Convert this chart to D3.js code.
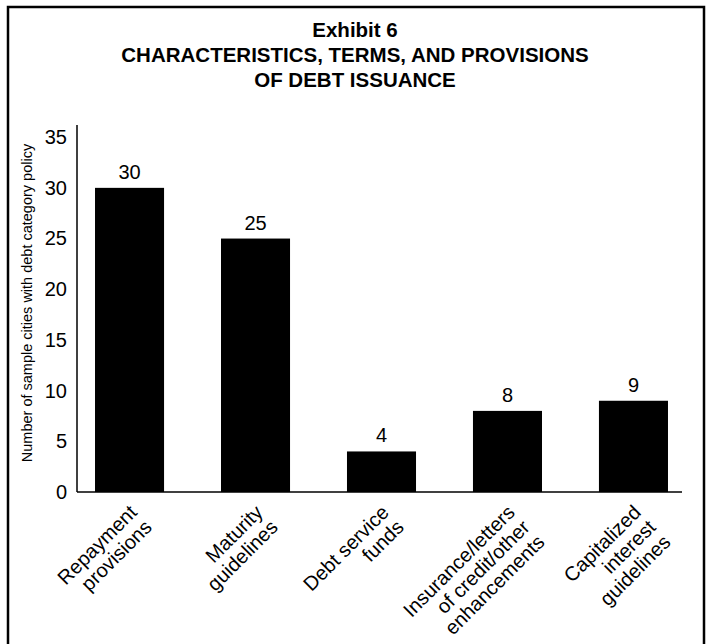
<!DOCTYPE html>
<html>
<head>
<meta charset="utf-8">
<script src="https://cdn.jsdelivr.net/npm/d3@7"></script>
<style>
  html, body { margin: 0; padding: 0; background: #fff; }
  svg { display: block; font-family: "Liberation Sans", Arial, Helvetica, sans-serif; }
</style>
</head>
<body>
<svg id="chart" width="709" height="644"></svg>
<script>
const categories = [
  ["Repayment", "provisions"],
  ["Maturity", "guidelines"],
  ["Debt service", "funds"],
  ["Insurance/letters", "of credit/other", "enhancements"],
  ["Capitalized", "interest", "guidelines"]
];
const values = [30, 25, 4, 8, 9];
const yTicks = [0, 5, 10, 15, 20, 25, 30, 35];
const titleLines = ["Exhibit 6", "CHARACTERISTICS, TERMS, AND PROVISIONS", "OF DEBT ISSUANCE"];
const yTitle = "Number of sample cities with debt category policy";

const svg = d3.select("#chart");

// frame
svg.append("path")
  .attr("d", "M8,650 L8,7 L704,7 L704,650")
  .attr("fill", "none").attr("stroke", "#000").attr("stroke-width", 2.5);

// title
svg.append("g").selectAll("text").data(titleLines).join("text")
  .attr("x", 355).attr("y", (d, i) => 37 + i * 25)
  .attr("text-anchor", "middle")
  .attr("font-weight", "bold").attr("font-size", 20.5)
  .text(d => d);

const x0 = 77, yBase = 492;
const x = d3.scaleBand()
  .domain(d3.range(categories.length))
  .range([x0, 686])
  .paddingInner(0.452).paddingOuter(0.143);
const y = d3.scaleLinear().domain([0, 36.2]).range([yBase, 125]);

// bars
svg.append("g").selectAll("rect").data(values).join("rect")
  .attr("x", (d, i) => x(i)).attr("width", x.bandwidth())
  .attr("y", d => y(d)).attr("height", d => y(0) - y(d))
  .attr("fill", "#000");

// value labels
svg.append("g").selectAll("text").data(values).join("text")
  .attr("x", (d, i) => x(i) + x.bandwidth() / 2)
  .attr("y", d => y(d) - 9)
  .attr("text-anchor", "middle").attr("font-size", 20)
  .text(d => d);

// y axis
const yAxis = d3.axisLeft(y).tickValues(yTicks).tickSize(0).tickPadding(10);
const gy = svg.append("g").attr("transform", `translate(${x0},0)`).call(yAxis);
gy.select(".domain").remove();
gy.selectAll("text").attr("font-size", 20).attr("font-family", "inherit").attr("fill", "#000");

svg.append("line").attr("x1", x0).attr("x2", x0).attr("y1", y(36.2)).attr("y2", yBase)
  .attr("stroke", "#000").attr("stroke-width", 1.5);
svg.append("line").attr("x1", x0).attr("x2", 682).attr("y1", yBase).attr("y2", yBase)
  .attr("stroke", "#000").attr("stroke-width", 1.5);

// y title
svg.append("text")
  .attr("transform", `translate(32,${303}) rotate(-90)`)
  .attr("text-anchor", "middle").attr("font-size", 14.5)
  .text(yTitle);

// category labels
const lab = svg.append("g").selectAll("text").data(categories).join("text")
  .attr("transform", (d, i) => `translate(${x(i) + x.bandwidth() / 2 - 2},${yBase + 11}) rotate(-45)`)
  .attr("text-anchor", "end").attr("font-size", 20);
lab.selectAll("tspan").data(d => d).join("tspan")
  .attr("x", 0).attr("dy", (d, i) => i === 0 ? "0.75em" : "1.05em")
  .text(d => d);
</script>
</body>
</html>
